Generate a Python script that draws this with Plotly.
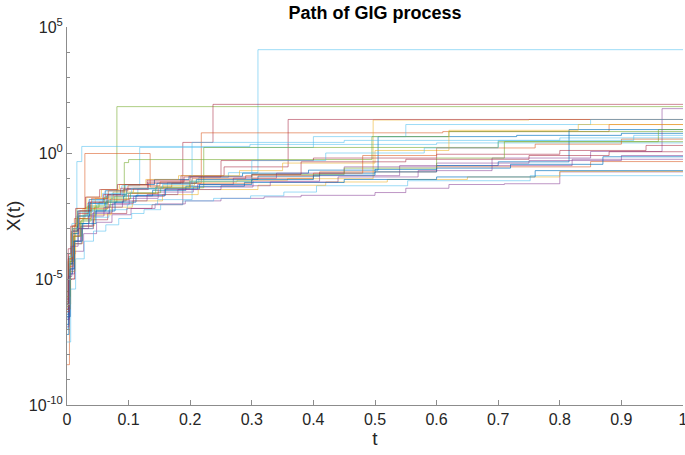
import plotly.graph_objects as go

# ---- data: jump times (t) and log10 levels of X(t) for each path ----
t_p01 = [0, 0.002, 0.006, 0.013, 0.027, 0.048, 0.077, 0.115, 0.163, 0.214, 0.262, 0.31]
L_p01 = [-7.0, -4.9, -3.7, -3.0, -2.45, -2.05, -1.72, -1.42, -1.17, -0.97, -0.78, 4.1]
t_p02 = [0, 0.003, 0.009, 0.017, 0.031, 0.052, 0.081]
L_p02 = [-5.5, -4.1, -3.0, -2.5, -2.15, -1.95, 1.84]
t_p03 = [0, 0.005, 0.011, 0.023, 0.043, 0.066, 0.097, 0.138, 0.188, 0.237]
L_p03 = [-6.2, -4.3, -3.5, -3.0, -2.65, -2.4, -2.2, -2.05, 0.42, 1.93]
t_p04 = [0, 0.004, 0.012, 0.029, 0.135, 0.17, 0.218, 0.61, 0.88]
L_p04 = [-8.4, -5.0, -2.6, -0.02, -1.35, -1.2, 0.8, 0.85, 1.13]
t_p05 = [0, 0.003, 0.008, 0.016, 0.024, 0.297, 0.6]
L_p05 = [-6.0, -4.2, -2.8, -0.34, 0.26, 0.34, 0.4]
t_p06 = [0, 0.003, 0.008, 0.017, 0.036, 0.062, 0.094, 0.142, 0.198, 0.285, 0.392, 0.505, 0.73, 0.9]
L_p06 = [-6.8, -4.4, -3.1, -2.3, -1.85, -1.5, -1.25, -1.05, -0.92, -0.8, -0.68, 0.65, 0.7, 0.78]
t_p07 = [0, 0.006, 0.014, 0.026, 0.046, 0.075, 0.108, 0.156, 0.207, 0.276, 0.358, 0.497, 0.75]
L_p07 = [-6.0, -4.0, -2.8, -2.2, -1.8, -1.55, -1.4, -1.28, -1.15, -1.08, -1.02, 1.31, 1.33]
t_p08 = [0, 0.002, 0.009, 0.019, 0.038, 0.064, 0.091, 0.132, 0.185, 0.255, 0.359]
L_p08 = [-5.8, -3.8, -2.9, -2.3, -1.95, -1.7, -1.45, -1.2, -0.9, -0.55, 1.33]
t_p09 = [0, 0.005, 0.013, 0.027, 0.048, 0.073, 0.104, 0.143, 0.192, 0.25, 0.32, 0.38, 0.5, 0.55, 0.62, 0.71, 0.8]
L_p09 = [-6.5, -5.0, -3.9, -3.2, -2.75, -2.45, -2.2, -2.02, -1.9, -1.8, -1.74, -1.68, -1.57, -1.4, -1.25, -1.22, -0.75]
t_p10 = [0, 0.006, 0.014, 0.028, 0.043, 0.063, 0.084, 0.105, 0.125, 0.152, 0.188, 0.238, 0.298, 0.352, 0.405, 0.553, 0.752]
L_p10 = [-7.5, -5.4, -4.2, -3.5, -3.1, -2.85, -2.6, -2.4, -2.25, -2.05, -1.9, -1.8, -1.7, -1.55, -1.3, -1.1, -0.9]
t_p11 = [0, 0.004, 0.011, 0.022, 0.041, 0.069, 0.101, 0.148, 0.205, 0.302, 0.41, 0.54, 0.69, 0.85, 0.966]
L_p11 = [-6.3, -4.6, -3.5, -2.9, -2.4, -2.05, -1.8, -1.55, -1.35, -1.12, -0.9, -0.5, -0.2, 0.06, 1.76]
t_p12 = [0, 0.003, 0.007, 0.015, 0.033, 0.058, 0.089, 0.118, 0.4, 0.55, 0.85]
L_p12 = [-6.6, -4.2, -3.1, -2.5, -2.0, -1.6, -1.3, 0.22, 0.65, 1.13, 1.33]
t_p13 = [0, 0.004, 0.012, 0.024, 0.045, 0.071, 0.103, 0.152, 0.222, 0.7]
L_p13 = [-5.9, -4.4, -3.3, -2.65, -2.15, -1.82, -1.58, -1.38, 0.22, 0.45]
t_p14 = [0, 0.002, 0.007, 0.016, 0.034, 0.061, 0.093, 0.1, 0.495, 0.62]
L_p14 = [-6.1, -4.3, -3.2, -2.6, -2.1, -1.75, -0.38, -0.26, 0.65, 0.85]
t_p15 = [0, 0.005, 0.012, 0.023, 0.042, 0.068, 0.098, 0.147, 0.203, 0.45, 0.8]
L_p15 = [-6.1, -4.7, -3.6, -3.0, -2.55, -2.25, -2.05, -1.85, 0.42, 0.5, 0.6]
t_p16 = [0, 0.003, 0.009, 0.019, 0.037, 0.066, 0.097, 0.146, 0.21, 0.31, 0.41, 0.5, 0.6, 0.7, 0.815]
L_p16 = [-6.4, -4.4, -3.2, -2.5, -2.0, -1.65, -1.42, -1.2, -1.05, -0.92, -0.8, -0.65, -0.5, -0.35, 0.93]
t_p17 = [0, 0.004, 0.01, 0.021, 0.04, 0.067, 0.099, 0.151, 0.203, 0.29, 0.41, 0.6, 0.85]
L_p17 = [-6.0, -4.2, -3.0, -2.3, -1.8, -1.5, -1.3, -1.15, -1.02, -0.9, -0.75, -0.55, -0.34]
t_p18 = [0, 0.005, 0.013, 0.025, 0.044, 0.072, 0.106, 0.155, 0.213, 0.31, 0.42, 0.52, 0.65, 0.8]
L_p18 = [-6.2, -4.7, -3.6, -2.9, -2.45, -2.15, -1.9, -1.65, -1.45, -1.28, -1.15, -1.05, -0.95, -0.73]
t_p19 = [0, 0.003, 0.009, 0.018, 0.036, 0.063, 0.092, 0.139, 0.193, 0.288, 0.45, 0.6, 0.76]
L_p19 = [-7.2, -4.8, -3.5, -2.8, -2.3, -1.95, -1.7, -1.48, -1.32, -1.17, -1.05, -0.95, -0.7]
t_p20 = [0, 0.004, 0.012, 0.024, 0.043, 0.074, 0.108, 0.158, 0.212, 0.27, 0.34, 0.45, 0.6, 0.75, 0.9]
L_p20 = [-6.6, -4.8, -3.6, -2.9, -2.35, -2.0, -1.72, -1.45, -1.25, -1.0, -0.8, -0.55, -0.4, -0.3, -0.1]
t_p21 = [0, 0.002, 0.008, 0.018, 0.035, 0.059, 0.087, 0.131, 0.19, 0.25, 0.4, 0.6, 0.8, 0.94]
L_p21 = [-6.0, -4.2, -3.1, -2.4, -1.95, -1.65, -1.4, -1.15, -0.95, -0.3, -0.2, -0.05, 0.1, 0.3]
t_p22 = [0, 0.005, 0.011, 0.022, 0.039, 0.065, 0.096, 0.144, 0.199, 0.3, 0.45, 0.6, 0.71, 0.96]
L_p22 = [-5.7, -4.3, -3.3, -2.7, -2.25, -1.9, -1.6, -1.35, -1.12, -0.85, -0.6, -0.2, 0.45, 0.93]
t_p23 = [0, 0.003, 0.008, 0.016, 0.032, 0.056, 0.085, 0.128, 0.181, 0.28, 0.35, 0.5, 0.62, 0.83]
L_p23 = [-6.1, -4.2, -2.9, -2.2, -1.75, -1.45, -1.25, -1.05, -0.9, -0.7, -0.4, 0.1, 0.9, 1.13]
t_p24 = [0, 0.004, 0.01, 0.02, 0.039, 0.067, 0.1, 0.148, 0.2, 0.3, 0.4, 0.48, 0.6, 0.76, 0.9]
L_p24 = [-6.3, -4.5, -3.3, -2.6, -2.2, -1.85, -1.6, -1.4, -1.2, -1.0, -0.8, -0.1, 0.2, 0.35, 0.55]
t_p25 = [0, 0.004, 0.009, 0.019, 0.041, 0.073, 0.105, 0.155, 0.2, 0.3, 0.42, 0.58, 0.7, 0.92]
L_p25 = [-6.0, -4.1, -3.0, -2.35, -1.9, -1.6, -1.4, -1.25, -1.12, -0.3, 0.0, 0.2, 0.5, 0.7]
t_p26 = [0, 0.005, 0.012, 0.025, 0.047, 0.078, 0.112, 0.16, 0.215, 0.3, 0.4, 0.5, 0.6, 0.72, 0.87]
L_p26 = [-6.5, -4.6, -3.5, -2.8, -2.3, -1.95, -1.68, -1.42, -1.25, -1.05, -0.88, -0.75, -0.6, -0.45, -0.15]
t_p27 = [0, 0.002, 0.006, 0.014, 0.03, 0.053, 0.082, 0.13, 0.2, 0.3, 0.38, 0.55, 0.75, 0.88]
L_p27 = [-6.2, -4.0, -2.9, -2.2, -1.75, -1.45, -1.25, -1.08, -0.95, -0.85, -0.35, -0.25, -0.1, 0.05]
t_p28 = [0, 0.003, 0.008, 0.018, 0.035, 0.06, 0.09, 0.13, 0.18, 0.25, 0.33, 0.44, 0.57, 0.69, 0.82]
L_p28 = [-6.9, -4.9, -3.7, -3.0, -2.5, -2.15, -1.9, -1.65, -1.45, -1.3, -1.15, -0.95, -0.7, -0.5, -0.25]

paths = [
    (t_p01, L_p01, "lightblue"), (t_p02, L_p02, "green"), (t_p03, L_p03, "darkred"),
    (t_p04, L_p04, "orange"), (t_p05, L_p05, "lightblue"), (t_p06, L_p06, "blue"),
    (t_p07, L_p07, "yellow"), (t_p08, L_p08, "darkred"), (t_p09, L_p09, "purple"),
    (t_p10, L_p10, "lightblue"), (t_p11, L_p11, "purple"), (t_p12, L_p12, "lightblue"),
    (t_p13, L_p13, "green"), (t_p14, L_p14, "green"), (t_p15, L_p15, "lightblue"),
    (t_p16, L_p16, "blue"), (t_p17, L_p17, "orange"), (t_p18, L_p18, "yellow"),
    (t_p19, L_p19, "blue"), (t_p20, L_p20, "purple"), (t_p21, L_p21, "darkred"),
    (t_p22, L_p22, "green"), (t_p23, L_p23, "yellow"), (t_p24, L_p24, "orange"),
    (t_p25, L_p25, "lightblue"), (t_p26, L_p26, "blue"), (t_p27, L_p27, "darkred"),
    (t_p28, L_p28, "purple"),
]

palette = {
    "blue": "rgba(0,114,189,0.65)",
    "orange": "rgba(217,83,25,0.55)",
    "yellow": "rgba(237,177,32,0.55)",
    "purple": "rgba(126,47,142,0.5)",
    "green": "rgba(119,172,48,0.6)",
    "lightblue": "rgba(77,190,238,0.55)",
    "darkred": "rgba(162,20,47,0.5)",
}

fig = go.Figure()
for t, L, c in paths:
    xs = list(t) + [1.0]
    ys = [10 ** v for v in L] + [10 ** L[-1]]
    fig.add_trace(go.Scatter(x=xs, y=ys, mode="lines", line=dict(shape="hv", width=1, color=palette[c]),
                             showlegend=False, hoverinfo="skip"))

x_ticks = [0, 0.1, 0.2, 0.3, 0.4, 0.5, 0.6, 0.7, 0.8, 0.9, 1]
x_ticktext = ["0", "0.1", "0.2", "0.3", "0.4", "0.5", "0.6", "0.7", "0.8", "0.9", "1"]
y_ticks = [1e-10, 1e-5, 1, 1e5]
y_ticktext = ["10<sup>-10</sup>", "10<sup>-5</sup>", "10<sup>0</sup>", "10<sup>5</sup>"]
y_minor = [10.0 ** k for k in range(-10, 6)]

font_family = "Liberation Sans, Arial, sans-serif"
axis_color = "#8c8c8c"

fig.update_layout(
    width=685, height=455,
    margin=dict(l=67, r=2, t=27, b=50, autoexpand=False),
    paper_bgcolor="white", plot_bgcolor="white",
    font=dict(family=font_family, color="#262626", size=15),
    title=dict(text="<b>Path of GIG process</b>", xref="paper", x=0.5, xanchor="center",
               yref="container", y=0.972, yanchor="middle",
               font=dict(size=18, color="black", family=font_family)),
    xaxis=dict(range=[0, 1], tickvals=x_ticks, ticktext=x_ticktext, ticks="inside", ticklen=5,
               tickcolor=axis_color, showline=True, linecolor=axis_color, linewidth=1,
               showgrid=False, zeroline=False, mirror=False, automargin=False,
               ticklabeloverflow="allow",
               title=dict(text="t", font=dict(size=19), standoff=3),
               tickfont=dict(size=16, color="#262626")),
    yaxis=dict(type="log", range=[-10, 5], tickvals=y_ticks, ticktext=y_ticktext, ticks="inside",
               ticklen=5, tickcolor=axis_color, showline=True, linecolor=axis_color, linewidth=1,
               showgrid=False, zeroline=False, automargin=False, ticklabeloverflow="allow",
               minor=dict(tickvals=y_minor, ticks="inside", ticklen=3, tickcolor=axis_color, showgrid=False),
               title=dict(text="X(t)", font=dict(size=19), standoff=3),
               tickfont=dict(size=16, color="#262626")),
)

fig.write_html("out.html", config={"displayModeBar": False},
               post_script="document.body.style.margin='0px';document.body.style.overflow='hidden';")
